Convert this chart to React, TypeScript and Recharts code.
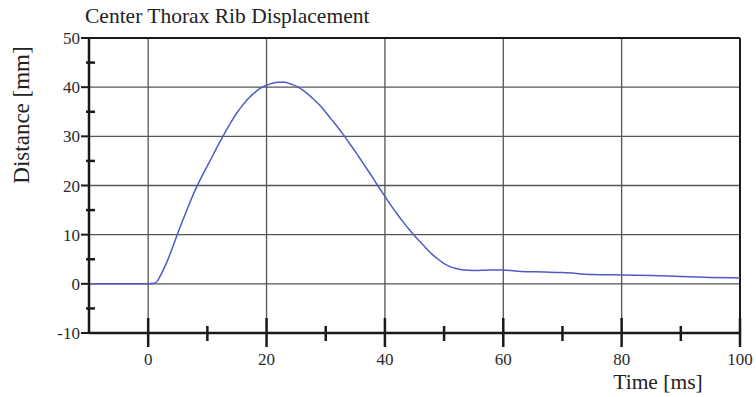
import React from "react";
import { LineChart, Line, XAxis, YAxis, CartesianGrid, ReferenceLine } from "recharts";

// displacement trace
const time = [-10, 0, 1, 1.5, 2, 3, 4, 5, 6, 7, 8, 9, 10, 11, 12, 13, 14, 15, 16, 17, 18, 19, 20, 21, 22, 23, 24, 25, 26, 27, 28, 29, 30, 31, 32, 33, 34, 35, 36, 37, 38, 39, 40, 41, 42, 43, 44, 45, 46, 47, 48, 49, 50, 51, 52, 53, 55, 58, 60, 63, 67, 70, 75, 80, 85, 90, 95, 100];
const distance = [0, 0, 0.1, 0.5, 1.5, 4, 7, 10.3, 13.4, 16.4, 19.2, 21.7, 24, 26.3, 28.6, 30.8, 32.9, 34.8, 36.4, 37.8, 38.9, 39.8, 40.4, 40.8, 41, 41, 40.7, 40.2, 39.5, 38.6, 37.5, 36.3, 34.9, 33.4, 31.9, 30.3, 28.6, 26.9, 25.1, 23.3, 21.5, 19.6, 17.8, 16, 14.3, 12.7, 11.2, 9.8, 8.5, 7.2, 6, 5, 4.1, 3.5, 3.1, 2.85, 2.7, 2.8, 2.8, 2.5, 2.4, 2.3, 1.9, 1.8, 1.7, 1.5, 1.3, 1.2];

const xTicks = [-10, 0, 10, 20, 30, 40, 50, 60, 70, 80, 90, 100];
const xLabelTicks = [0, 20, 40, 60, 80, 100];
const yTicks = [-10, -5, 0, 5, 10, 15, 20, 25, 30, 35, 40, 45, 50];
const yLabelTicks = [-10, 0, 10, 20, 30, 40, 50];
const gridX = [0, 20, 40, 60, 80];
const gridY = [0, 10, 20, 30, 40];

const data = time.map((t, i) => ({ t, d: distance[i] }));

const serif = "'Liberation Serif', 'Times New Roman', serif";
const ink = "#1a1a1a";

const XTick = (props: any) => {
  const { x, y, payload } = props;
  const v = payload.value;
  if (v === -10) return null;
  const major = xLabelTicks.includes(v);
  return (
    <g>
      <line x1={x} x2={x} y1={major ? y - 15 : y - 7} y2={major ? y + 14 : y + 8} stroke={ink} strokeWidth={2.5} />
      {major && (
        <text x={x} y={y + 32} textAnchor="middle" style={{ fontFamily: serif, fontSize: 17 }} fill="#2a2a2a">
          {v}
        </text>
      )}
    </g>
  );
};

const YTick = (props: any) => {
  const { x, y, payload } = props;
  const v = payload.value;
  const major = yLabelTicks.includes(v);
  return (
    <g>
      {major ? (
        <line x1={x - 8} x2={x} y1={y} y2={y} stroke={ink} strokeWidth={2} />
      ) : (
        <line x1={x - 3} x2={x + 6} y1={y} y2={y} stroke={ink} strokeWidth={2.5} />
      )}
      {major && (
        <text x={x - 9} y={y + 6} textAnchor="end" style={{ fontFamily: serif, fontSize: 17 }} fill="#2a2a2a">
          {v}
        </text>
      )}
    </g>
  );
};

export default function App() {
  return (
    <div style={{ position: "fixed", left: 0, top: 0, width: 756, height: 397, background: "#fff" }}>
      <LineChart width={756} height={397} data={data} margin={{ top: 38, right: 16, bottom: 34, left: 29 }}>
        <CartesianGrid horizontalValues={gridY} verticalValues={gridX} stroke="#555" strokeWidth={1.3} />
        <XAxis
          type="number"
          dataKey="t"
          domain={[-10, 100]}
          ticks={xTicks}
          height={30}
          tickSize={0}
          tickMargin={0}
          tickLine={false}
          tick={(p: any) => <XTick {...p} />}
          axisLine={{ stroke: ink, strokeWidth: 2.5 }}
          allowDataOverflow
        />
        <YAxis
          type="number"
          domain={[-10, 50]}
          ticks={yTicks}
          width={60}
          tickSize={0}
          tickMargin={0}
          tickLine={false}
          tick={(p: any) => <YTick {...p} />}
          axisLine={{ stroke: ink, strokeWidth: 2.5 }}
          allowDataOverflow
        />
        <ReferenceLine y={50} stroke={ink} strokeWidth={2} />
        <ReferenceLine x={100} stroke={ink} strokeWidth={2} />
        <Line type="monotone" dataKey="d" stroke="#4f5bc4" strokeWidth={1.5} dot={false} isAnimationActive={false} />
      </LineChart>
      <div style={{ position: "absolute", left: 85, top: 4, fontFamily: serif, fontSize: 21.5, color: "#222", whiteSpace: "nowrap" }}>
        Center Thorax Rib Displacement
      </div>
      <div
        style={{
          position: "absolute",
          left: 22,
          top: 115,
          transform: "translate(-50%, -50%) rotate(-90deg)",
          fontFamily: serif,
          fontSize: 23,
          color: "#222",
          whiteSpace: "nowrap",
        }}
      >
        Distance [mm]
      </div>
      <div
        style={{
          position: "absolute",
          left: 658,
          top: 382,
          transform: "translate(-50%, -50%)",
          fontFamily: serif,
          fontSize: 21.5,
          color: "#222",
          whiteSpace: "nowrap",
        }}
      >
        Time [ms]
      </div>
    </div>
  );
}
